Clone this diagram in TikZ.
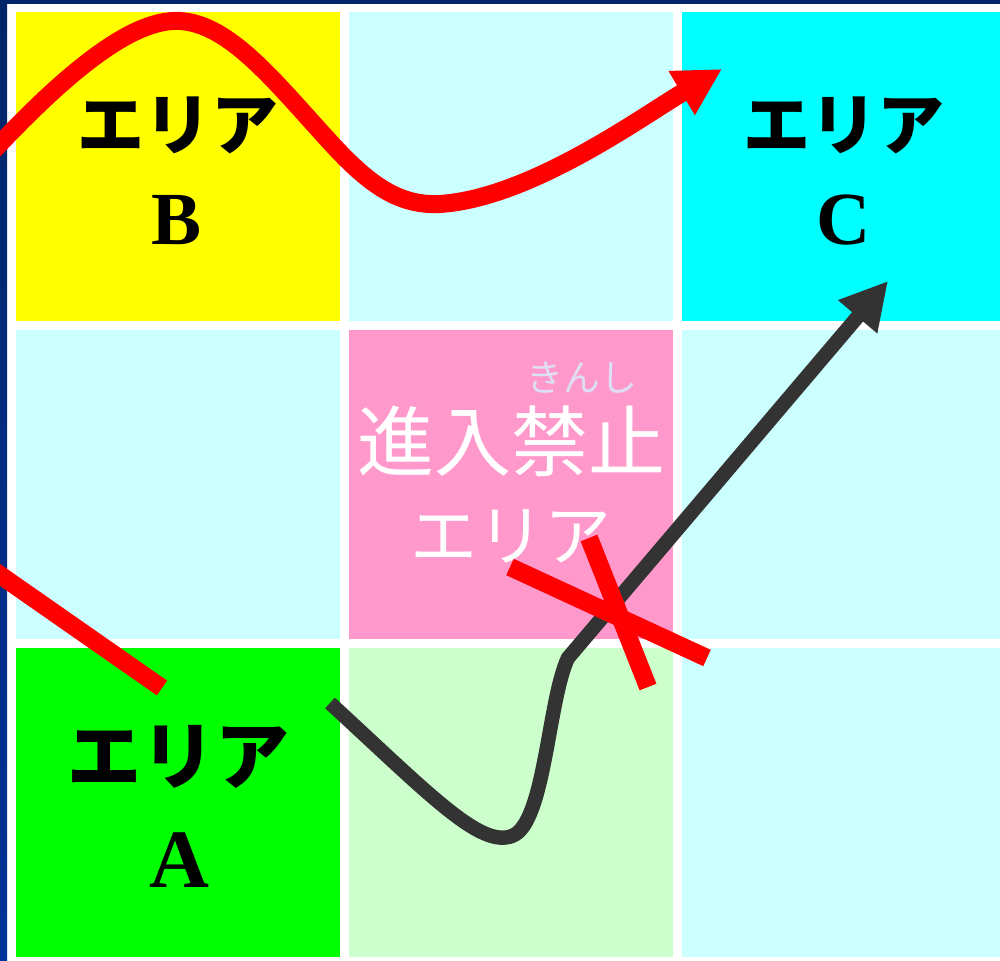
\documentclass[tikz,border=0pt]{standalone}
\usepackage{fontspec}
\setmainfont{Liberation Serif}
\newfontfamily\jpfont{Noto Sans CJK JP}
\usetikzlibrary{arrows.meta, math}
\definecolor{areayellow}{RGB}{255,255,0}
\definecolor{areacyan}{RGB}{0,255,255}
\definecolor{areagreen}{RGB}{0,255,0}
\definecolor{floorcyan}{RGB}{204,255,255}
\definecolor{floorgreen}{RGB}{204,255,204}
\definecolor{nogopink}{RGB}{255,153,204}
\definecolor{rubyblue}{RGB}{222,222,245}
\definecolor{pathgray}{RGB}{51,51,51}
\definecolor{framenavy}{RGB}{0,36,104}
\definecolor{frameblue}{RGB}{0,51,153}
\tikzset{
  arealabel/.style={font=\jpfont\bfseries\fontsize{33.5}{36}\selectfont, inner sep=0},
  arealetter/.style={font=\bfseries\fontsize{37.5}{40}\selectfont, inner sep=0},
  redroute/.style={draw=red, line width=9pt},
  grayroute/.style={draw=pathgray, line width=7.2pt},
}

\begin{document}
\begin{tikzpicture}[x=0.5pt, y=-0.5pt]
\tikzmath{
\W=324; \H=309;
}
\useasboundingbox (0,0) rectangle (1000,961);
\clip (0,0) rectangle (1000,961);
\fill[white] (0,0) rectangle (1000,961);

% frame
\shade[top color=framenavy, bottom color=frameblue] (0,0) rectangle (7,961);
\fill[framenavy] (0,0) rectangle (1000,4);

% floor cells
\fill[areayellow] (16,12) rectangle ++(\W,\H);
\fill[floorcyan]  (349,12) rectangle ++(\W,\H);
\fill[areacyan]   (682,12) rectangle ++(\W,\H);
\fill[floorcyan]  (16,330) rectangle ++(\W,\H);
\fill[nogopink]   (349,330) rectangle ++(\W,\H);
\fill[floorcyan]  (682,330) rectangle ++(\W,\H);
\fill[areagreen]  (16,648) rectangle ++(\W,\H);
\fill[floorgreen] (349,648) rectangle ++(\W,\H);
\fill[floorcyan]  (682,648) rectangle ++(\W,\H);

% labels
\node[arealabel] (labB) at (178,125) {エリア};
\node[arealetter] (letB) at (177,220) {B};
\node[arealabel] (labC) at (844,125) {エリア};
\node[arealetter] (letC) at (844,220) {C};
\node[arealabel, font=\jpfont\bfseries\fontsize{37}{40}\selectfont] (labA) at (178,757) {エリア};
\node[arealetter, font=\bfseries\fontsize{41.5}{44}\selectfont] (letA) at (179,860) {A};

\node[text=white, inner sep=0, font=\jpfont\fontsize{38.5}{40}\selectfont] (nogo) at (511,441) {進入禁止};
\node[text=white, inner sep=0, font=\jpfont\fontsize{33.5}{36}\selectfont] (nogoarea) at (511,536) {エリア};
\node[text=rubyblue, inner sep=0, font=\jpfont\fontsize{18.5}{20}\selectfont] (ruby) at (582,378) {きんし};

% routes
\coordinate (redfrom) at (-20,165);
\coordinate (redto) at (722,69);
\draw[redroute, -{Triangle[length=23.5pt, width=24pt]}] (redfrom)
  .. controls (60,78) and (130,18) .. (180,21)
  .. controls (230,24) and (275,82) .. (330,142)
  .. controls (370,186) and (400,206) .. (440,204)
  .. controls (530,198) and (640,118) .. (redto);

\coordinate (stopfrom) at (-20,561);
\coordinate (stopto) at (162,688);
\draw[redroute] (stopfrom) -- (stopto);

\coordinate (grayfrom) at (330,703);
\coordinate (graybend) at (568,658);
\coordinate (grayto) at (888,281);
\draw[grayroute, -{Triangle[length=23.5pt, width=24pt]}] (grayfrom)
  .. controls (430,795) and (480,848) .. (512,836)
  .. controls (545,824) and (548,700) .. (graybend) -- (grayto);

% cross
\coordinate (crossa) at (510,567);
\coordinate (crossb) at (707,658);
\coordinate (crossc) at (589,538);
\coordinate (crossd) at (648,687);
\draw[redroute] (crossa) -- (crossb);
\draw[redroute] (crossc) -- (crossd);

\end{tikzpicture}
\end{document}
